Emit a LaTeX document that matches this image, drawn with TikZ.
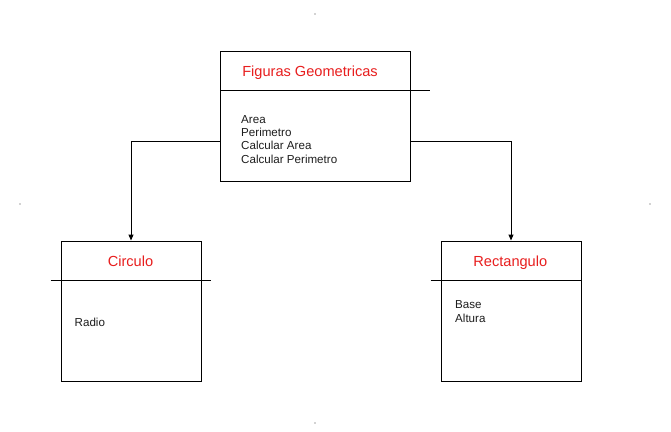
\documentclass[tikz,border=0pt]{standalone}
\usepackage{fontspec}
\setmainfont{Liberation Sans}
\usetikzlibrary{arrows.meta}
\definecolor{titlered}{RGB}{232,30,30}
\definecolor{bodytext}{RGB}{30,30,30}
\begin{document}
\begin{tikzpicture}[x=1pt,y=-1pt,
  classbox/.style={draw=black,line width=1pt,minimum width=#1,minimum height=140pt,anchor=north west,inner sep=0pt},
  titletext/.style={text=titlered,font=\fontsize{14.6}{16}\selectfont,inner sep=0pt,anchor=base},
  bodytxt/.style={text=bodytext,font=\fontsize{11.6}{13.3}\selectfont,align=left,inner sep=0pt,anchor=north west},
  divider/.style={line width=1pt},
  conn/.style={line width=1pt,-{Triangle[length=6pt,width=5pt]}},
  dot/.style={fill=gray!70,draw=none}]
\path[use as bounding box,fill=white] (0,0) rectangle (671,431);
% top class
\node[classbox=190pt,minimum height=130pt] (fg) at (220,50.5) {};
\draw[divider] ([yshift=-39.5pt]fg.north west) -- ++(210,0) coordinate (fgdivend);
\node[titletext] (fgt) at (310,76) {Figuras Geometricas};
\node[bodytxt] (fgb) at (241,115) {Area\\Perimetro\\Calcular Area\\Calcular Perimetro};
% circulo
\node[classbox=140pt] (ci) at (60.5,240.5) {};
\draw[divider] ([xshift=-10pt,yshift=-39.5pt]ci.north west) -- ++(160,0) coordinate (cidivend);
\node[titletext] (cit) at (130.5,266) {Circulo};
\node[bodytxt] (cib) at (74.5,317.5) {Radio};
% rectangulo
\node[classbox=140pt] (re) at (440.5,240.5) {};
\draw[divider] ([xshift=-10pt,yshift=-39.5pt]re.north west) -- ++(150,0) coordinate (redivend);
\node[titletext] (ret) at (510.3,266) {Rectangulo};
\node[bodytxt] (reb) at (455,300.8) {Base\\Altura};
% connectors
\draw[conn] ([yshift=-25pt]fg.west) -| (ci.north);
\draw[conn] ([yshift=-25pt]fg.east) -| (re.north);
% corner dots
\fill[dot] (315,14) circle (0.8);
\fill[dot] (20,204) circle (0.8);
\fill[dot] (650,204) circle (0.8);
\fill[dot] (315,423) circle (0.8);
\end{tikzpicture}
\end{document}
